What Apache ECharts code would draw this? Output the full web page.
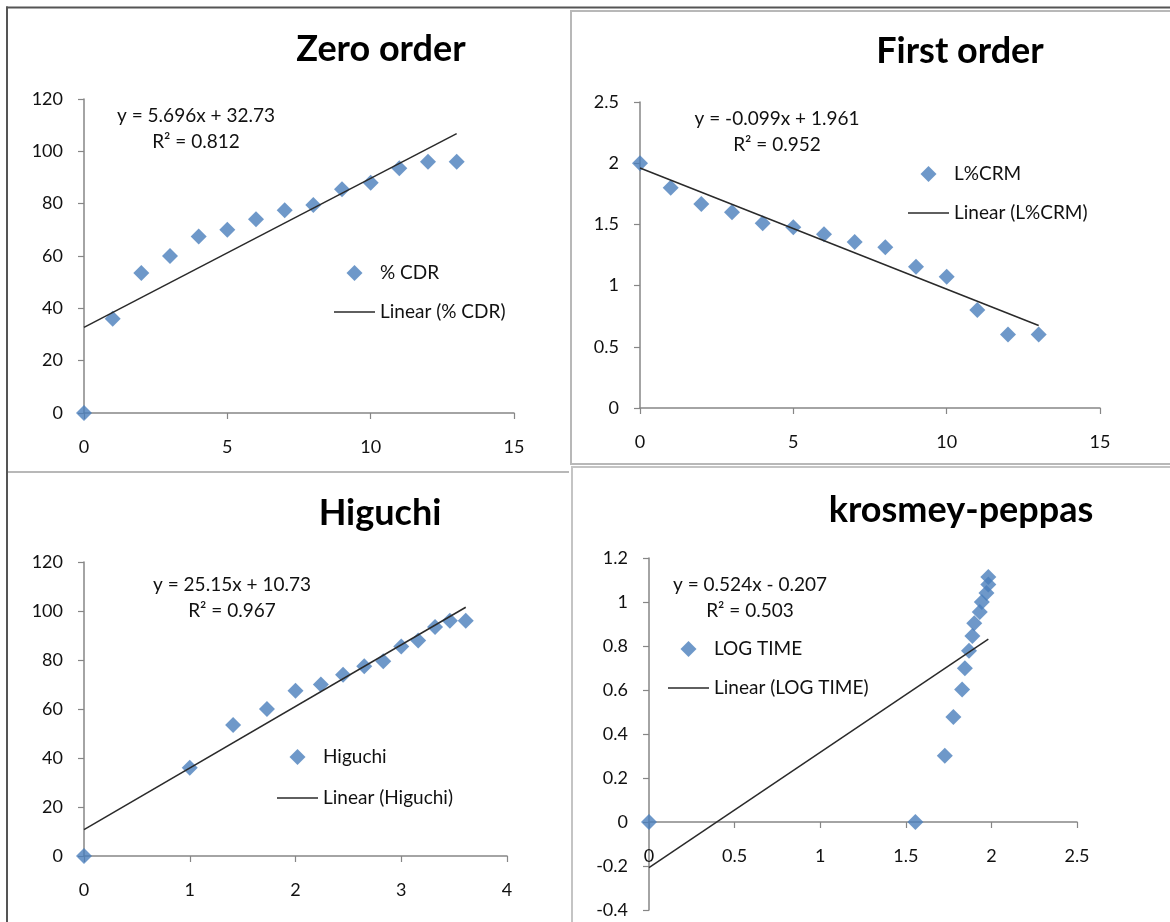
<!DOCTYPE html>
<html>
<head>
<meta charset="utf-8">
<title>Drug release kinetics</title>
<script src="https://cdn.jsdelivr.net/npm/echarts@6/dist/echarts.min.js"></script>
<style>
  html, body { margin: 0; padding: 0; background: #ffffff; }
  #chart { width: 1170px; height: 922px; }
</style>
</head>
<body>
<div id="chart"></div>
<script>
// ---- Release data --------------------------------------------------------
// Sampling times (h)
const timeHours = [0, 1, 2, 3, 4, 5, 6, 7, 8, 9, 10, 11, 12, 13];
// Cumulative drug release (%)
const cdrPercent = [0, 36, 53.5, 60, 67.5, 70, 74, 77.5, 79.5, 85.5, 88, 93.5, 96, 96];
// Log of percent drug remaining
const logRemaining = [2.0, 1.80, 1.667, 1.60, 1.51, 1.476, 1.42, 1.356, 1.313, 1.154, 1.073, 0.80, 0.60, 0.60];
// Square root of time
const sqrtTime = [0, 1, 1.41, 1.73, 2, 2.24, 2.45, 2.65, 2.83, 3, 3.16, 3.32, 3.46, 3.61];
// Log of cumulative release (x) against log of time (y)
const logCdr = [0, 1.556, 1.728, 1.778, 1.829, 1.845, 1.869, 1.889, 1.900, 1.932, 1.944, 1.971, 1.982, 1.982];
const logTime = [0, 0, 0.301, 0.477, 0.602, 0.699, 0.778, 0.845, 0.903, 0.954, 1.0, 1.041, 1.079, 1.114];

// ---- Linear fits: zero order, first order, Higuchi, Korsmeyer-Peppas ----
const modelTitles = ['Zero order', 'First order', 'Higuchi', 'krosmey-peppas'];
const seriesNames = ['% CDR', 'L%CRM', 'Higuchi', 'LOG TIME'];
const fitSlopes = [5.696, -0.099, 25.15, 0.524];
const fitIntercepts = [32.73, 1.961, 10.73, -0.207];
const fitR2 = ['0.812', '0.952', '0.967', '0.503'];

// Axis ranges [min, max, interval] per panel
const xRanges = [[0, 15, 5], [0, 15, 5], [0, 4, 1], [0, 2.5, 0.5]];
const yRanges = [[0, 120, 20], [0, 2.5, 0.5], [0, 120, 20], [-0.4, 1.2, 0.2]];

const panelX = [timeHours, timeHours, sqrtTime, logCdr];
const panelY = [cdrPercent, logRemaining, cdrPercent, logTime];

// ---- Layout ---------------------------------------------------------------
const FONT = 'Lato, "Open Sans", "DejaVu Sans", sans-serif';
const BLUE = '#4A7EBB';
const TEXT = '#111111';
const AXIS = '#868686';
const TREND = '#2a2a2a';

// legend glyphs: a diamond and a short horizontal stroke
const DIAMOND_ICON = 'path://M7,0 L14,7 L7,14 L0,7 Z';
const STROKE_ICON = 'path://M0,0 L41,0 L41,1.5 L0,1.5 Z';

const grids = [
  { left: 84, top: 99, width: 430, height: 314 },
  { left: 640, top: 102, width: 460, height: 306 },
  { left: 84, top: 562, width: 423, height: 294 },
  { left: 649, top: 558, width: 428, height: 352 }
].map(g => Object.assign({ outerBoundsMode: 'none', containLabel: false }, g));

const titlePos = [[381, 29], [960, 31], [380, 493], [961, 490]];
const equationPos = [[196, 103], [777, 106], [232, 572], [750, 572]];
const legendPos = [[334, 263.5, 20], [908, 164.5, 20], [277, 747.5, 22], [668, 639.5, 20]];

function pairs(xs, ys) {
  return xs.map((x, i) => [x, ys[i]]);
}

function fitLine(i) {
  const xs = panelX[i];
  const x0 = Math.min(...xs);
  const x1 = Math.max(...xs);
  return [
    [x0, fitSlopes[i] * x0 + fitIntercepts[i]],
    [x1, fitSlopes[i] * x1 + fitIntercepts[i]]
  ];
}

function equationText(i) {
  const b = fitIntercepts[i];
  const sign = b < 0 ? ' - ' : ' + ';
  return 'y = ' + fitSlopes[i] + 'x' + sign + Math.abs(b) + '\nR\u00B2 = ' + fitR2[i];
}

function axis(i, range, isX) {
  return {
    type: 'value',
    gridIndex: i,
    min: range[0],
    max: range[1],
    interval: range[2],
    axisLine: { show: true, onZero: false, lineStyle: { color: AXIS, width: 1.5 } },
    axisTick: { show: true, inside: false, length: 6, lineStyle: { color: AXIS, width: 1.2 } },
    axisLabel: {
      color: TEXT,
      fontFamily: FONT,
      fontSize: 18,
      margin: isX ? 25 : 21,
      hideOverlap: false
    },
    splitLine: { show: false }
  };
}

const titles = [];
const legends = [];
const series = [];
const xAxes = [];
const yAxes = [];

for (let i = 0; i < 4; i++) {
  const xAxis = axis(i, xRanges[i], true);
  // the category axis crosses the value axis at y = 0
  const [yMin, yMax] = yRanges[i];
  if (yMin < 0) {
    xAxis.offset = -grids[i].height * (0 - yMin) / (yMax - yMin);
  }
  xAxes.push(xAxis);
  yAxes.push(axis(i, yRanges[i], false));

  titles.push({
    text: modelTitles[i],
    left: titlePos[i][0],
    top: titlePos[i][1],
    textAlign: 'center',
    padding: 0,
    textStyle: { fontFamily: FONT, fontWeight: 'bold', fontSize: 36, lineHeight: 40, color: '#000' }
  });
  titles.push({
    text: equationText(i),
    left: equationPos[i][0],
    top: equationPos[i][1],
    textAlign: 'center',
    padding: 0,
    textStyle: { fontFamily: FONT, fontWeight: 'normal', fontSize: 19, lineHeight: 26, color: TEXT }
  });

  const name = seriesNames[i];
  const trendName = 'Linear (' + name + ')';

  legends.push({
    data: [
      { name: name, icon: DIAMOND_ICON },
      { name: trendName, icon: STROKE_ICON }
    ],
    orient: 'vertical',
    left: legendPos[i][0],
    top: legendPos[i][1],
    itemGap: legendPos[i][2],
    itemWidth: 41,
    itemHeight: 16,
    symbolKeepAspect: true,
    padding: 0,
    selectedMode: false,
    textStyle: { fontFamily: FONT, fontSize: 19, color: TEXT, lineHeight: 14 }
  });

  series.push({
    name: name,
    type: 'scatter',
    xAxisIndex: i,
    yAxisIndex: i,
    symbol: 'diamond',
    symbolSize: 16,
    clip: false,
    itemStyle: { color: BLUE },
    data: pairs(panelX[i], panelY[i]),
    z: 3
  });
  series.push({
    name: trendName,
    type: 'line',
    xAxisIndex: i,
    yAxisIndex: i,
    symbol: 'none',
    clip: false,
    lineStyle: { color: TREND, width: 1.5 },
    itemStyle: { color: TREND },
    data: fitLine(i),
    z: 4
  });
}

const chart = echarts.init(document.getElementById('chart'), null, { renderer: 'canvas' });
chart.setOption({
  backgroundColor: '#ffffff',
  animation: false,
  title: titles,
  legend: legends,
  grid: grids,
  xAxis: xAxes,
  yAxis: yAxes,
  series: series,
  graphic: [
    // outer frame
    { type: 'line', silent: true, shape: { x1: 6, y1: 7.5, x2: 1170, y2: 7.5 }, style: { stroke: '#555555', lineWidth: 2 } },
    { type: 'line', silent: true, shape: { x1: 7, y1: 6.5, x2: 7, y2: 922 }, style: { stroke: '#555555', lineWidth: 2 } },
    // panel separators
    { type: 'polyline', silent: true, shape: { points: [[1170, 11], [571, 11], [571, 464], [1170, 464]] }, style: { stroke: '#b8b8b8', lineWidth: 2, fill: null } },
    { type: 'line', silent: true, shape: { x1: 8, y1: 472, x2: 569, y2: 472 }, style: { stroke: '#b8b8b8', lineWidth: 2 } },
    { type: 'polyline', silent: true, shape: { points: [[572, 922], [572, 467], [1170, 467]] }, style: { stroke: '#c4c4c4', lineWidth: 2, fill: null } }
  ]
});
</script>
</body>
</html>
